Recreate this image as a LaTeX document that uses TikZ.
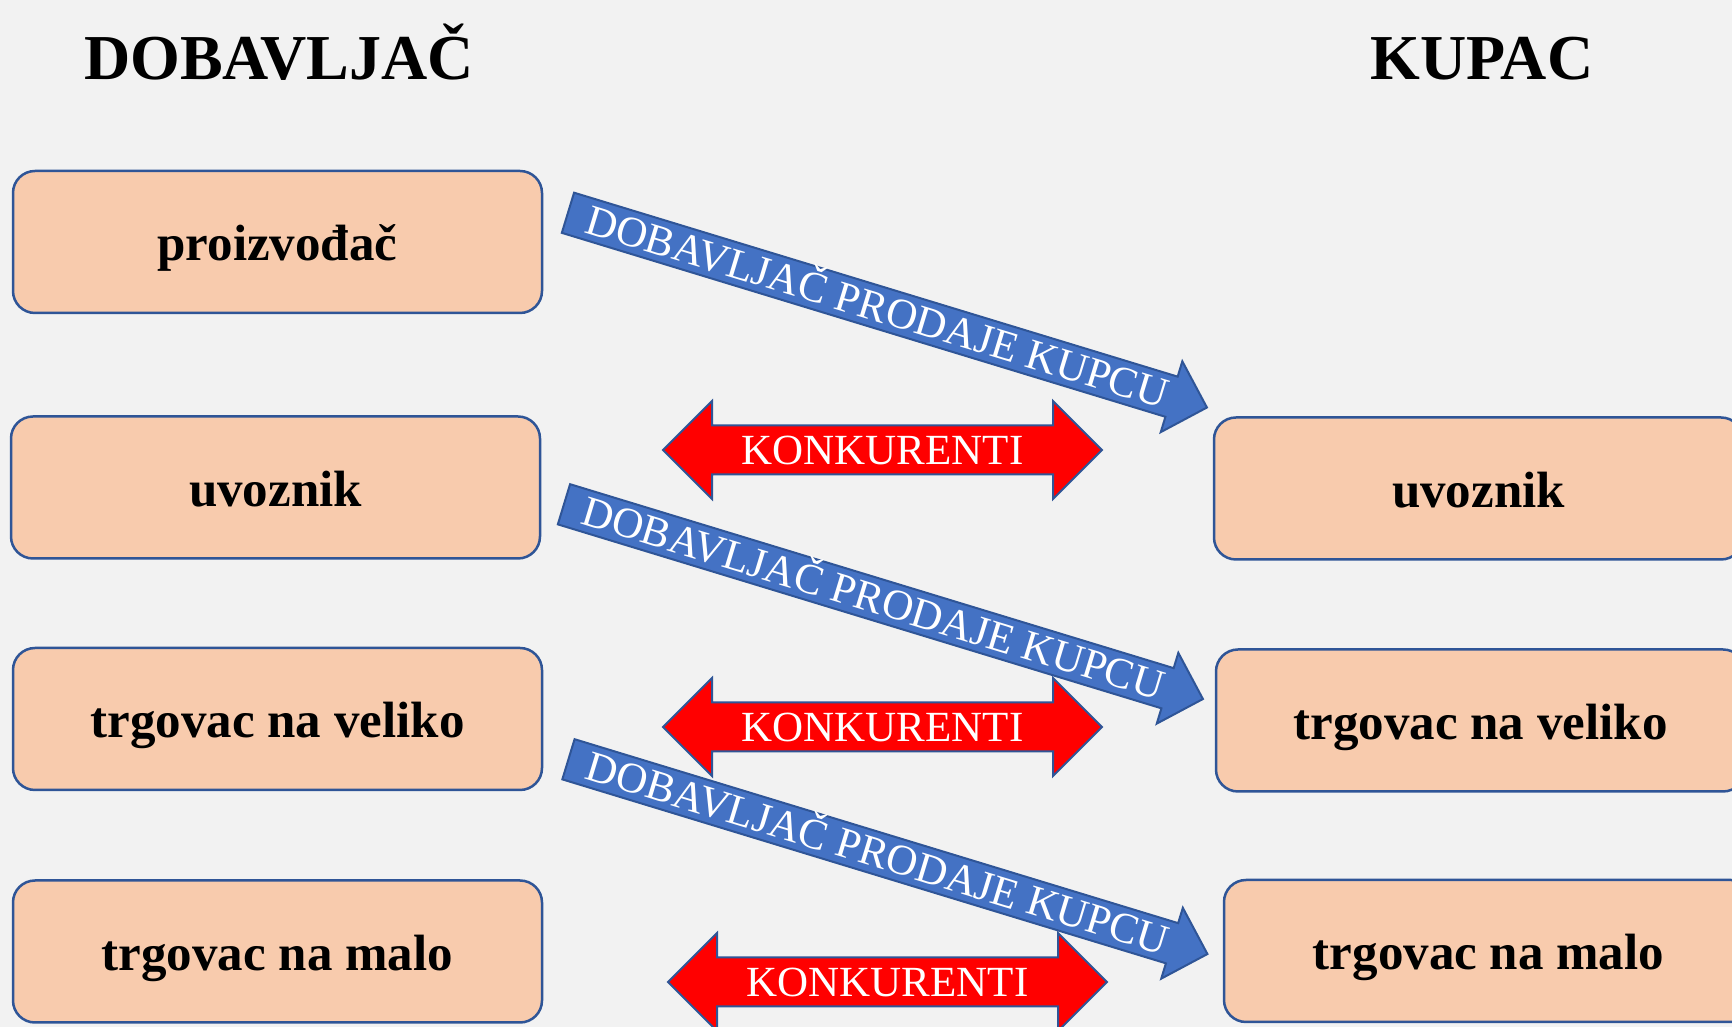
\documentclass[tikz,border=0pt]{standalone}
\usepackage{fontspec}
\setmainfont{Liberation Serif}
\usetikzlibrary{shapes.arrows}

\definecolor{pozadina}{HTML}{F2F2F2}
\definecolor{breskva}{HTML}{F8CBAD}
\definecolor{rub}{HTML}{2F5597}
\definecolor{plava}{HTML}{4472C4}

\tikzset{
  kutija/.style={draw=rub, line width=2.5pt, fill=breskva, rounded corners=22pt,
    minimum width=529pt, minimum height=142pt, text height=44pt, text depth=6pt,
    font=\fontsize{51}{60}\selectfont\bfseries},
  naslov/.style={font=\fontsize{64}{76}\selectfont\bfseries, anchor=base},
  prodaja/.style={single arrow, draw=rub, line width=2pt, fill=plava, text=white,
    font=\fontsize{43}{50}\selectfont, text height=34pt, text depth=6pt,
    inner ysep=0pt, inner xsep=0pt, minimum height=668pt,
    single arrow head extend=16pt, single arrow tip angle=90,
    rotate=-16.95, anchor=tail},
  konkurencija/.style={double arrow, draw=rub, line width=2pt, fill=red, text=white,
    font=\fontsize{43}{50}\selectfont, text height=38pt, text depth=9pt,
    inner ysep=0pt, inner xsep=0pt, minimum height=439pt,
    double arrow head extend=24.5pt, double arrow tip angle=90}
}

\begin{document}
\begin{tikzpicture}[x=1pt,y=1pt]

        % pozadina
        \fill[pozadina] (0,0) rectangle (1732,1027);
        \useasboundingbox (0,0) rectangle (1732,1027);
        \clip (0,0) rectangle (1732,1027);

        % naslovi
        \node[naslov] (dobavljac) at (279,947) {DOBAVLJAČ};
        \node[naslov] (kupac) at (1482,947) {KUPAC};

        % dobavljaci
        \node[kutija] (dob1) at (277.5,785) {proizvođač};
        \node[kutija] (dob2) at (275.5,539.5) {uvoznik};
        \node[kutija] (dob3) at (277.5,308) {trgovac na veliko};
        \node[kutija] (dob4) at (277.5,75.5) {trgovac na malo};

        % kupci
        \node[kutija] (kup1) at (1478.5,538.5) {uvoznik};
        \node[kutija] (kup2) at (1480.5,306.5) {trgovac na veliko};
        \node[kutija] (kup3) at (1488.5,76) {trgovac na malo};

        % dobavljac prodaje kupcu
        \coordinate (rep1) at (567,814.5);
        \coordinate (rep2) at (563,523);
        \coordinate (rep3) at (567.5,268);
        \node[prodaja] (prod1) at (rep1) {DOBAVLJAČ PRODAJE KUPCU};
        \node[prodaja] (prod2) at (rep2) {DOBAVLJAČ PRODAJE KUPCU};
        \node[prodaja] (prod3) at (rep3) {DOBAVLJAČ PRODAJE KUPCU};

        % konkurenti
        \node[konkurencija] (konk1) at (882.5,577) {KONKURENTI};
        \node[konkurencija] (konk2) at (882.5,300) {KONKURENTI};
        \node[konkurencija] (konk3) at (887.5,45) {KONKURENTI};

\end{tikzpicture}
\end{document}
